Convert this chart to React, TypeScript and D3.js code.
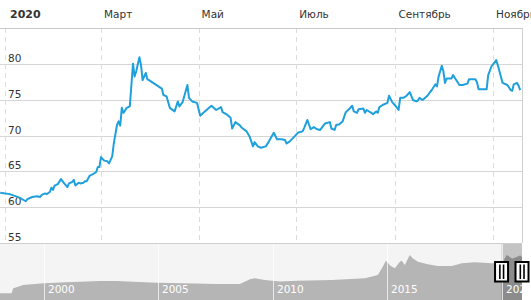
import React from 'react';
import * as d3 from 'd3';

// Main series: days since 2020-01-01 and rate values
const DAY_OFFSETS = [
  -3, 3, 9, 13, 14, 17, 20, 22, 23, 25, 26, 28, 29, 30, 31, 33, 35, 37, 39, 40,
  42, 43, 44, 46, 47, 49, 50, 51, 53, 55, 57, 58, 59, 60, 62, 64, 65, 67, 68, 70,
  71, 72, 73, 74, 75, 76, 78, 79, 80, 81, 82, 84, 85, 86, 87, 88, 89, 90, 98, 99,
  101, 103, 106, 108, 109, 111, 112, 114, 115, 117, 120, 122, 124, 129, 132, 135, 136, 139, 141, 142,
  144, 147, 148, 151, 153, 155, 156, 158, 160, 163, 165, 168, 170, 173, 175, 176, 178, 181, 183, 186,
  187, 189, 191, 193, 195, 197, 199, 200, 203, 204, 206, 207, 209, 211, 213, 215, 217, 218, 220, 221,
  224, 225, 226, 229, 230, 232, 233, 234, 236, 239, 240, 242, 244, 246, 247, 249, 251, 253, 255, 257,
  258, 259, 261, 264, 266, 267, 269, 270, 271, 273, 274, 275, 276, 279, 280, 282, 284, 286, 289, 290,
  294, 295, 296, 301, 302, 304, 307, 308, 311, 314, 316, 317, 318, 320, 321, 322,
];
const RATES = [
  62.0, 61.8, 61.3, 60.8, 61.1, 61.4, 61.5, 61.4, 61.7, 61.9, 61.8, 62.1, 62.7, 62.4, 63.0, 63.2, 63.9, 63.3, 62.8, 63.3,
  63.5, 63.8, 63.0, 63.4, 63.3, 63.4, 63.6, 63.6, 64.4, 64.6, 64.9, 65.6, 65.6, 67.0, 66.5, 66.4, 66.1, 67.1, 68.9, 71.5,
  72.0, 71.4, 73.9, 73.2, 73.5, 73.9, 74.1, 77.1, 80.1, 78.3, 79.0, 81.0, 79.9, 77.8, 78.3, 78.8, 77.9, 77.8, 76.6, 75.7,
  75.5, 73.9, 73.4, 74.8, 74.1, 74.7, 75.5, 77.1, 75.3, 74.8, 74.6, 72.8, 73.2, 74.2, 73.6, 74.0, 73.3, 72.9, 72.5, 71.0,
  71.9, 71.4, 71.1, 70.6, 69.8, 68.5, 69.1, 68.5, 68.3, 68.5, 69.2, 70.4, 69.5, 69.5, 69.4, 68.9, 69.2, 69.9, 70.4, 70.6,
  71.1, 72.2, 70.9, 71.2, 70.9, 70.8, 71.4, 71.7, 71.9, 71.0, 70.8, 71.5, 71.6, 72.0, 73.3, 73.7, 74.2, 73.4, 73.2, 73.7,
  73.8, 73.2, 73.6, 73.2, 73.0, 73.4, 73.2, 74.0, 74.3, 74.6, 75.6, 74.7, 74.2, 73.6, 75.3, 75.3, 75.6, 76.1, 75.0, 74.8,
  74.9, 75.3, 75.0, 75.6, 76.2, 76.5, 77.2, 76.9, 78.3, 79.8, 79.0, 77.4, 78.0, 78.0, 78.5, 77.8, 77.1, 77.1, 77.3, 77.9,
  77.9, 77.5, 76.5, 76.5, 78.5, 79.7, 80.6, 79.9, 77.4, 77.1, 76.4, 76.3, 77.2, 77.4, 77.0, 76.4,
];

const Y_TICKS = [55, 60, 65, 70, 75, 80];
const MONTH_TICKS = [0, 2, 4, 6, 8, 10];
const MONTH_LABELS = ['2020', 'Март', 'Май', 'Июль', 'Сентябрь', 'Ноябрь'];

// Navigator (full history)
const NAV_DATES = [
  '1998-01-30', '1998-08-03', '1998-08-29', '1998-11-14', '1999-01-30', '2000-01-01', '2001-01-01',
  '2002-06-13', '2003-03-11', '2003-11-24', '2004-12-10', '2006-01-26', '2007-07-23', '2008-07-23',
  '2009-01-01', '2009-03-14', '2009-08-25', '2010-04-20', '2011-02-03', '2012-07-30', '2014-01-08',
  '2014-08-03', '2014-10-20', '2014-12-09', '2015-01-08', '2015-02-24', '2015-05-01', '2015-07-20',
  '2015-08-18', '2015-10-08', '2015-12-24', '2016-02-10', '2016-05-01', '2016-10-08', '2017-03-14',
  '2017-10-27', '2018-04-05', '2018-10-27', '2019-07-23', '2020-01-10', '2020-03-20', '2020-06-15',
  '2020-10-20', '2020-11-19',
];
const NAV_VALUES = [
  9.2, 9.2, 18.5, 21.5, 24.7, 27.9, 29.8,
  32.2, 32.2, 30.9, 29.0, 27.9, 26.6, 26.6,
  35.4, 37.3, 34.1, 31.3, 32.8, 34.1, 37.3,
  43.4, 59, 70.2, 66.5, 60.3, 56, 68.4,
  70.2, 62.2, 80.9, 74.7, 68.4, 63.5, 60.3,
  60.3, 65.4, 67.2, 65.4, 66, 81, 74,
  80, 77,
];
const NAV_YEARS = [2000, 2005, 2010, 2015, 2020];

const W = 531;
const H = 300;
const PLOT_L = 0;
const PLOT_R = 522;
const PLOT_T = 28;
const PLOT_B = 242.6;
const NAV_T = 243;
const FONT = '"DejaVu Sans", Verdana, sans-serif';
const LINE_COLOR = '#1fa0db';

const base = new Date(2020, 0, 1);
const parse = d3.timeParse('%Y-%m-%d');

export default function App() {
  const data = DAY_OFFSETS.map((d, i) => ({ date: d3.timeDay.offset(base, d), v: RATES[i] }));
  const x = d3
    .scaleTime()
    .domain([new Date(2019, 11, 28, 21), new Date(2020, 10, 19, 3)])
    .range([PLOT_L, PLOT_R]);
  const y = d3.scaleLinear().domain([55, 85.1]).range([PLOT_B, PLOT_T]);
  const line = d3
    .line<{ date: Date; v: number }>()
    .x((d) => x(d.date))
    .y((d) => y(d.v));

  const navData = NAV_DATES.map((d, i) => ({ date: parse(d) as Date, v: NAV_VALUES[i] }));
  const nx = d3
    .scaleTime()
    .domain([new Date(1998, 0, 30), new Date(2020, 10, 19)])
    .range([PLOT_L, PLOT_R]);
  const ny = d3.scaleLinear().domain([0, 90]).range([298.2, 250.1]);
  const area = d3
    .area<{ date: Date; v: number }>()
    .x((d) => nx(d.date))
    .y0(H + 5)
    .y1((d) => ny(d.v));

  const selX0 = nx(x.domain()[0]);
  const selX1 = nx(x.domain()[1]);

  const handle = (cx: number) => (
    <g>
      <rect x={cx - 6.5} y={262} width={13} height={19.5} fill="#fff" stroke="#000" strokeWidth={2} />
      <rect x={cx - 2.5} y={264.5} width={1.6} height={14.5} fill="#000" />
      <rect x={cx + 1.2} y={264.5} width={1.6} height={14.5} fill="#000" />
    </g>
  );

  return (
    <svg
      width={W}
      height={H}
      style={{ position: 'absolute', left: 0, top: 0, background: '#fff' }}
      fontFamily={FONT}
    >
      <defs>
        <clipPath id="plotClip">
          <rect x={PLOT_L} y={PLOT_T} width={PLOT_R - PLOT_L} height={PLOT_B - PLOT_T + 1} />
        </clipPath>
        <clipPath id="navClip">
          <rect x={PLOT_L} y={NAV_T} width={PLOT_R - PLOT_L} height={H - NAV_T} />
        </clipPath>
        <clipPath id="selClip">
          <rect x={selX0} y={NAV_T} width={selX1 - selX0} height={H - NAV_T} />
        </clipPath>
      </defs>

      {/* horizontal gridlines */}
      {Y_TICKS.map((t) => (
        <line key={t} x1={PLOT_L} x2={PLOT_R} y1={Math.round(y(t)) + 0.5} y2={Math.round(y(t)) + 0.5} stroke="#d6d6d6" />
      ))}
      {/* vertical dashed month lines */}
      {MONTH_TICKS.map((m) => {
        const xx = Math.round(x(new Date(2020, m, 1))) + 0.5;
        return (
          <line key={m} x1={xx} x2={xx} y1={PLOT_T} y2={PLOT_B} stroke="#dcdcdc" strokeDasharray="5,4" />
        );
      })}
      {/* header line and right border */}
      <line x1={PLOT_L} x2={PLOT_R} y1={28.5} y2={28.5} stroke="#c8c8c8" />
      <line x1={PLOT_R + 0.5} x2={PLOT_R + 0.5} y1={28} y2={NAV_T} stroke="#d0d0d0" />

      {/* month labels */}
      {MONTH_TICKS.map((m, i) => {
        const xx = x(new Date(2020, m, 1));
        return (
          <text
            key={m}
            x={i === 0 ? 10 : xx + 3}
            y={18}
            fontSize={i === 0 ? 11 : 10.5}
            fontWeight={i === 0 ? 'bold' : 'normal'}
            fill="#333"
          >
            {MONTH_LABELS[i]}
          </text>
        );
      })}

      {/* y labels */}
      {Y_TICKS.map((t) => (
        <text key={t} x={8} y={y(t) - 2} fontSize={10.5} fill="#333">
          {t}
        </text>
      ))}

      {/* series line */}
      <path d={line(data) || ''} fill="none" stroke={LINE_COLOR} strokeWidth={2} strokeLinejoin="round" clipPath="url(#plotClip)" />

      {/* navigator */}
      <g clipPath="url(#navClip)">
        <rect x={PLOT_L} y={NAV_T} width={PLOT_R - PLOT_L} height={H - NAV_T} fill="#f4f4f4" />
        <rect x={selX0} y={NAV_T} width={selX1 - selX0} height={H - NAV_T} fill="#c4c4c4" />
        <path d={area(navData) || ''} fill="#b5b5b5" />
        <path d={area(navData) || ''} fill="#8c8c8c" clipPath="url(#selClip)" />
        {NAV_YEARS.map((yr) => {
          const xx = Math.round(nx(new Date(yr, 0, 1))) + 0.5;
          return (
            <g key={yr}>
              <line x1={xx} x2={xx} y1={NAV_T} y2={H} stroke="#fff" strokeOpacity={0.7} />
              <text x={xx + 3.5} y={293} fontSize={10.5} fill="#fff">
                {yr}
              </text>
            </g>
          );
        })}
      </g>
      <line x1={PLOT_L} x2={PLOT_R} y1={NAV_T + 0.5} y2={NAV_T + 0.5} stroke="#cfcfcf" />
      {handle(selX0)}
      {handle(selX1)}
    </svg>
  );
}
